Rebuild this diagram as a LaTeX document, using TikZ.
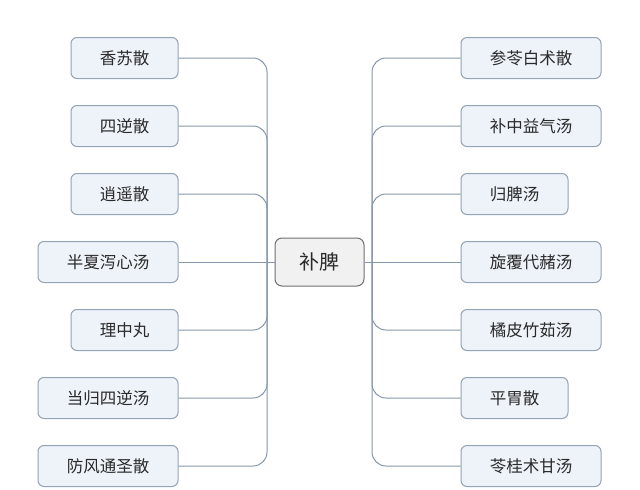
\documentclass[tikz,border=0pt]{standalone}
\usepackage{fontspec}
\setmainfont{Noto Sans CJK SC}
\begin{document}
\begin{tikzpicture}[x=1pt,y=-1pt,
  leaf/.style={draw=boxline, fill=boxfill, rounded corners=6pt, line width=1pt,
    minimum height=41pt, inner sep=0pt, text=txt, font=\fontsize{16.5pt}{19pt}\selectfont},
  hub/.style={draw=hubline, fill=hubfill, rounded corners=7pt, line width=1pt,
    minimum width=89pt, minimum height=48pt, inner sep=0pt, text=txt, font=\fontsize{20pt}{23pt}\selectfont},
  conn/.style={draw=lineclr, line width=1pt},
  branchline/.style={conn, rounded corners=14pt}]
\definecolor{boxline}{HTML}{94A3B6}
\definecolor{boxfill}{HTML}{EEF3FA}
\definecolor{hubline}{HTML}{707070}
\definecolor{hubfill}{HTML}{F1F1F1}
\definecolor{lineclr}{HTML}{8797AB}
\definecolor{txt}{HTML}{2A2A2A}
\useasboundingbox (0,0) rectangle (640,490);
\fill[white] (0,0) rectangle (640,490);
% hub
\node[hub] (hub) at (319.5,262) {补脾};
\coordinate (lj) at (267,262);
\coordinate (rj) at (372,262);
% left leaves
\node[leaf, minimum width=107pt] (l1) at (124.5,58) {香苏散};
\node[leaf, minimum width=107pt] (l2) at (124.5,126) {四逆散};
\node[leaf, minimum width=107pt] (l3) at (124.5,194) {逍遥散};
\node[leaf, minimum width=140pt] (l4) at (108,262) {半夏泻心汤};
\node[leaf, minimum width=107pt] (l5) at (124.5,330) {理中丸};
\node[leaf, minimum width=140pt] (l6) at (108,398) {当归四逆汤};
\node[leaf, minimum width=140pt] (l7) at (108,466) {防风通圣散};
% right leaves
\node[leaf, minimum width=140pt] (r1) at (531,58) {参苓白术散};
\node[leaf, minimum width=140pt] (r2) at (531,126) {补中益气汤};
\node[leaf, minimum width=107pt] (r3) at (514.5,194) {归脾汤};
\node[leaf, minimum width=140pt] (r4) at (531,262) {旋覆代赭汤};
\node[leaf, minimum width=140pt] (r5) at (531,330) {橘皮竹茹汤};
\node[leaf, minimum width=107pt] (r6) at (514.5,398) {平胃散};
\node[leaf, minimum width=140pt] (r7) at (531,466) {苓桂术甘汤};
% connectors
\draw[conn] (hub.west) -- (l4.east);
\draw[conn] (hub.east) -- (r4.west);
\foreach \n in {l1,l2,l3,l5,l6,l7} {\draw[branchline] (lj) |- (\n.east);}
\foreach \n in {r1,r2,r3,r5,r6,r7} {\draw[branchline] (rj) |- (\n.west);}
\end{tikzpicture}
\end{document}
